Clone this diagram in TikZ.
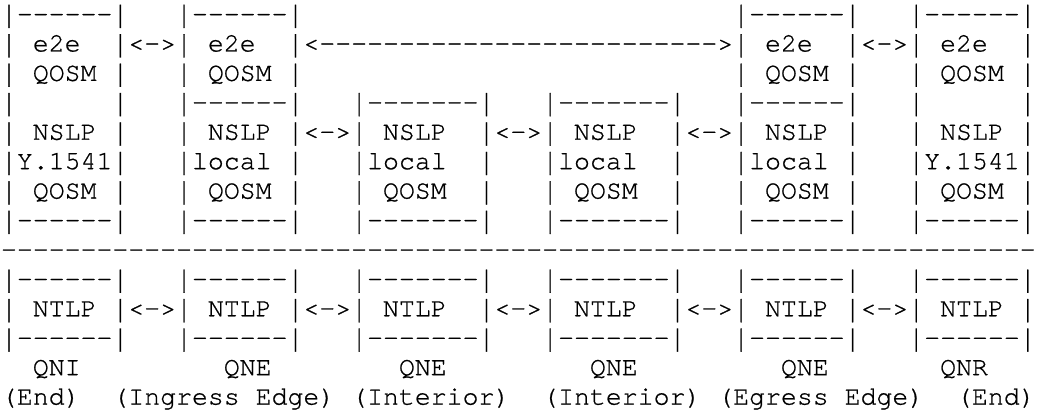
\documentclass[tikz,border=0pt]{standalone}
\usepackage{fontspec}
\usepackage{graphicx}
\setmonofont[Extension=.otf,FakeBold=0.8]{texgyrecursor-regular}
\newcommand\asciifont{\ttfamily\fontsize{26.53}{29.43}\selectfont\frenchspacing}
\newcommand\vb{\raisebox{-2pt}{\scalebox{1}[1.2]{|}}}
\tikzset{
  asciiline/.style={anchor=base west, inner sep=0pt, outer sep=0pt, font=\asciifont, text=black}
}
\begin{document}
\begin{tikzpicture}[x=1pt,y=1pt]
\fill[white] (0,0) rectangle (1038,-412);
\useasboundingbox (0,0) rectangle (1038,-412);
\def\bz{22}
\def\lh{29.43}
\node[asciiline] (l1)  at (1,{-(\bz+0*\lh)}) {\vb------\vb~~~\vb------\vb~~~~~~~~~~~~~~~~~~~~~~~~~~~\vb------\vb~~~\vb------\vb};
\node[asciiline] (l2)  at (1,{-(\bz+1*\lh)}) {\vb~e2e~~\vb<->\vb~e2e~~\vb<------------------------->\vb~e2e~~\vb<->\vb~e2e~~\vb};
\node[asciiline] (l3)  at (1,{-(\bz+2*\lh)}) {\vb~QOSM~\vb~~~\vb~QOSM~\vb~~~~~~~~~~~~~~~~~~~~~~~~~~~\vb~QOSM~\vb~~~\vb~QOSM~\vb};
\node[asciiline] (l4)  at (1,{-(\bz+3*\lh)}) {\vb~~~~~~\vb~~~\vb------\vb~~~\vb-------\vb~~~\vb-------\vb~~~\vb------\vb~~~\vb~~~~~~\vb};
\node[asciiline] (l5)  at (1,{-(\bz+4*\lh)}) {\vb~NSLP~\vb~~~\vb~NSLP~\vb<->\vb~NSLP~~\vb<->\vb~NSLP~~\vb<->\vb~NSLP~\vb~~~\vb~NSLP~\vb};
\node[asciiline] (l6)  at (1,{-(\bz+5*\lh)}) {\vb Y.1541\vb~~~\vb local~\vb~~~\vb local~~\vb~~~\vb local~~\vb~~~\vb local~\vb~~~\vb Y.1541\vb};
\node[asciiline] (l7)  at (1,{-(\bz+6*\lh)}) {\vb~QOSM~\vb~~~\vb~QOSM~\vb~~~\vb~QOSM~~\vb~~~\vb~QOSM~~\vb~~~\vb~QOSM~\vb~~~\vb~QOSM~\vb};
\node[asciiline] (l8)  at (1,{-(\bz+7*\lh)}) {\vb------\vb~~~\vb------\vb~~~\vb-------\vb~~~\vb-------\vb~~~\vb------\vb~~~\vb------\vb};
\node[asciiline] (l9)  at (1,{-(\bz+8*\lh)}) {-----------------------------------------------------------------};
\node[asciiline] (l10) at (1,{-(\bz+9*\lh)}) {\vb------\vb~~~\vb------\vb~~~\vb-------\vb~~~\vb-------\vb~~~\vb------\vb~~~\vb------\vb};
\node[asciiline] (l11) at (1,{-(\bz+10*\lh)}) {\vb~NTLP~\vb<->\vb~NTLP~\vb<->\vb~NTLP~~\vb<->\vb~NTLP~~\vb<->\vb~NTLP~\vb<->\vb~NTLP~\vb};
\node[asciiline] (l12) at (1,{-(\bz+11*\lh)}) {\vb------\vb~~~\vb------\vb~~~\vb-------\vb~~~\vb-------\vb~~~\vb------\vb~~~\vb------\vb};
\node[asciiline] (l13) at (1,{-(\bz+12*\lh)}) {~~QNI~~~~~~~~~QNE~~~~~~~~QNE~~~~~~~~~QNE~~~~~~~~~QNE~~~~~~~QNR};
\node[asciiline] (l14) at (1,{-(\bz+13*\lh)}) {(End)~~(Ingress~Edge)~(Interior)~~(Interior)~(Egress~Edge)~~(End)};
\end{tikzpicture}
\end{document}
